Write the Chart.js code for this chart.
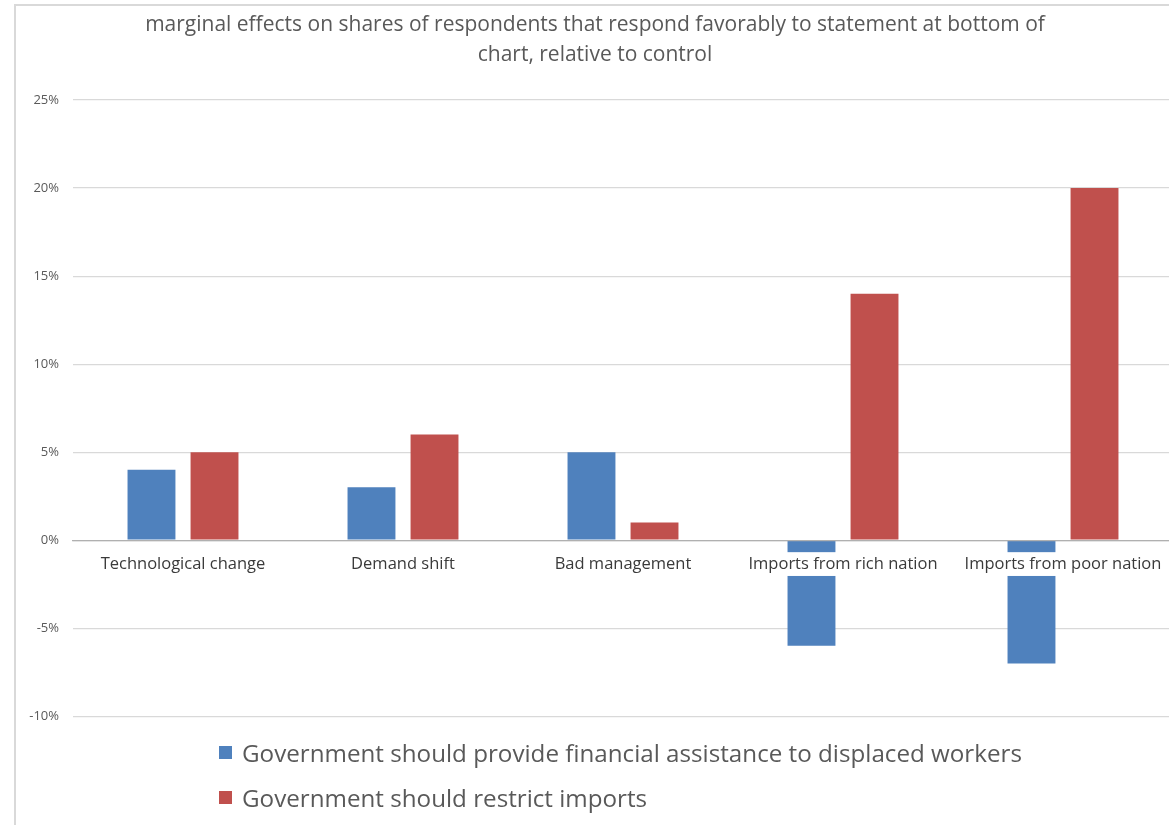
<!DOCTYPE html>
<html>
<head>
<meta charset="utf-8">
<title>Marginal effects</title>
<script src="https://cdn.jsdelivr.net/npm/chart.js@4.4.1/dist/chart.umd.min.js"></script>
<style>
  body { margin: 0; background: #fff; overflow: hidden; width: 1169px; height: 825px; position: relative; }
  #frame { position: absolute; left: 14px; top: 4px; width: 1200px; height: 900px;
           border-left: 2px solid #d9d9d9; border-top: 2px solid #d9d9d9; }
  #wrap { position: absolute; left: 17px; top: 7px; width: 1158px; height: 731px; }
  #legend { position: absolute; left: 219px; top: 730px; font-family: 'Open Sans', sans-serif;
            font-size: 24.2px; color: #595959; }
  #legend .item { display: flex; align-items: center; height: 45px; white-space: nowrap; }
  #legend .swatch { width: 13px; height: 13px; margin-right: 10px; }
</style>
</head>
<body>
<div id="frame"></div>
<div id="wrap"><canvas id="effectsChart"></canvas></div>
<div id="legend"></div>
<script>
const categories = ['Technological change', 'Demand shift', 'Bad management',
                    'Imports from rich nation', 'Imports from poor nation'];
const seriesNames = ['Government should provide financial assistance to displaced workers',
                     'Government should restrict imports'];
const assistValues = [4, 3, 5, -6, -7];
const restrictValues = [5, 6, 1, 14, 20];
const yTicks = [-10, -5, 0, 5, 10, 15, 20, 25];
const titleLines = ['marginal effects on shares of respondents that respond favorably to statement at bottom of',
                    'chart, relative to control'];

const colors = ['#4f81bd', '#c0504d'];
const fontFamily = "'Open Sans', sans-serif";

const chart = new Chart(document.getElementById('effectsChart'), {
    type: 'bar',
    data: {
        labels: categories,
        datasets: [
            { label: seriesNames[0], data: assistValues, backgroundColor: colors[0] },
            { label: seriesNames[1], data: restrictValues, backgroundColor: colors[1] }
        ]
    },
    options: {
        responsive: true,
        maintainAspectRatio: false,
        animation: false,
        categoryPercentage: 0.573,
        barPercentage: 0.76,
        layout: { padding: { left: 0, right: 2, top: 0, bottom: 6 } },
        plugins: {
            legend: { display: false },
            tooltip: { enabled: false },
            title: {
                display: true,
                text: titleLines,
                color: '#595959',
                font: { family: fontFamily, size: 21, weight: 'normal', lineHeight: 1.43 },
                padding: { top: 3, bottom: 30 }
            }
        },
        scales: {
            x: {
                position: { y: 0 },
                grid: { display: false },
                border: { display: true, color: '#b0b0b0', width: 1.2, z: 1 },
                ticks: {
                    z: 1,
                    color: '#3a3a3a',
                    font: { family: fontFamily, size: 16.5 },
                    padding: 6,
                    autoSkip: false,
                    maxRotation: 0,
                    showLabelBackdrop: true,
                    backdropColor: '#ffffff',
                    backdropPadding: { top: 2, bottom: 2, left: 3, right: 3 }
                }
            },
            y: {
                min: -10,
                max: 25,
                afterBuildTicks: s => { s.ticks = yTicks.map(v => ({ value: v })); },
                afterFit: s => { s.width = 56; },
                grid: { color: '#d9d9d9', lineWidth: 1.2, drawTicks: false },
                border: { display: false },
                ticks: {
                    color: '#595959',
                    font: { family: fontFamily, size: 13 },
                    padding: 14,
                    callback: v => v + '%'
                }
            }
        }
    }
});

// legend stacked under the plot, one entry per line
const legendBox = document.getElementById('legend');
chart.data.datasets.forEach(ds => {
    const item = document.createElement('div');
    item.className = 'item';
    const sw = document.createElement('span');
    sw.className = 'swatch';
    sw.style.background = ds.backgroundColor;
    const txt = document.createElement('span');
    txt.textContent = ds.label;
    item.appendChild(sw);
    item.appendChild(txt);
    legendBox.appendChild(item);
});
</script>
</body>
</html>
